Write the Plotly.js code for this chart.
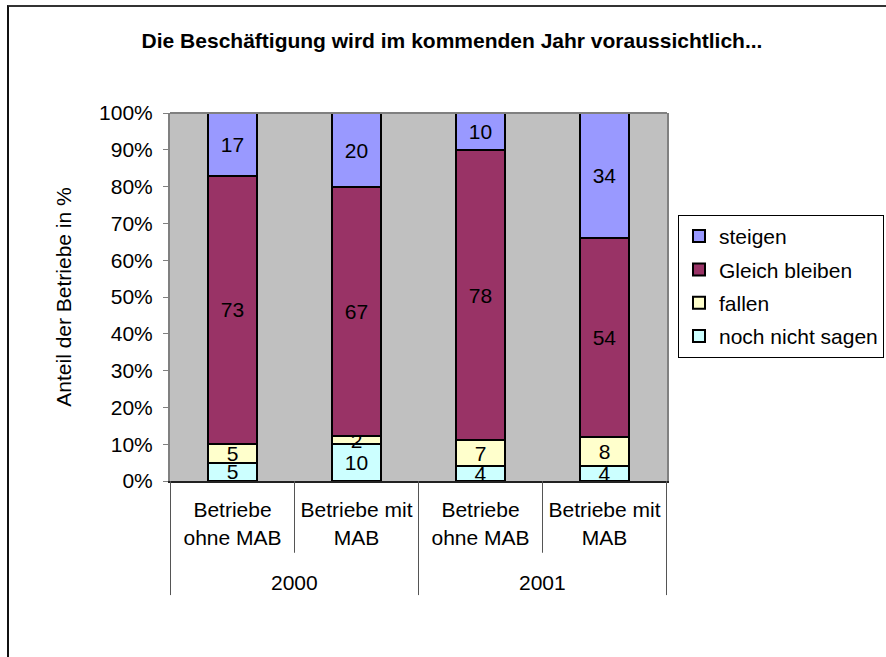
<!DOCTYPE html>
<html>
<head>
<meta charset="utf-8">
<script src="https://cdn.plot.ly/plotly-3.0.1.min.js"></script>
<style>
  body { margin: 0; padding: 0; background: #fff; overflow: hidden; }
  #wrap { position: relative; width: 886px; height: 657px; }
  #chart { position: absolute; left: 0; top: 0; width: 886px; height: 657px; }
  #frame { position: absolute; left: 7px; top: 5px; width: 900px; height: 700px;
           border-left: 2px solid #111; border-top: 2px solid #333; pointer-events: none; }
</style>
</head>
<body>
<div id="wrap">
  <div id="chart"></div>
  <div id="frame"></div>
</div>
<script>
// ---- data ----
const categories = ["c1", "c2", "c3", "c4"];
const categoryLabels = ["Betriebe<br>ohne MAB", "Betriebe mit<br>MAB", "Betriebe<br>ohne MAB", "Betriebe mit<br>MAB"];
const years = ["2000", "2001"];
const nochNichtSagen = [5, 10, 4, 4];
const fallen = [5, 2, 7, 8];
const gleichBleiben = [73, 67, 78, 54];
const steigen = [17, 20, 10, 34];
const yTicks = [0, 10, 20, 30, 40, 50, 60, 70, 80, 90, 100];
const yTickLabels = ["0%", "10%", "20%", "30%", "40%", "50%", "60%", "70%", "80%", "90%", "100%"];

const FONT = "Liberation Sans, Arial, sans-serif";

function mk(name, vals, color, rank) {
  return {
    type: "bar",
    name: name,
    x: categories,
    y: vals,
    text: vals.map(String),
    texttemplate: "%{text}",
    textposition: "inside",
    insidetextanchor: "middle",
    textangle: 0,
    constraintext: "none",
    textfont: { family: FONT, size: 21, color: "#000" },
    marker: { color: color, line: { color: "#000", width: 2 } },
    legendgroup: "g" + rank,
    legendrank: rank,
    hoverinfo: "skip"
  };
}

const data = [
  mk("noch nicht sagen", nochNichtSagen, "#CCFFFF", 4),
  mk("fallen", fallen, "#FFFFCC", 3),
  mk("Gleich bleiben", gleichBleiben, "#993366", 2),
  mk("steigen", steigen, "#9999FF", 1)
];

// dividers & year annotations below axis
const shapes = [];
const outer = [-0.5, 1.5, 3.5];
const inner = [0.5, 2.5];
outer.forEach(x => shapes.push({ type: "line", xref: "x", yref: "paper", x0: x, x1: x, y0: 0, y1: -0.31,
  line: { color: "#555", width: 1 } }));
inner.forEach(x => shapes.push({ type: "line", xref: "x", yref: "paper", x0: x, x1: x, y0: 0, y1: -0.195,
  line: { color: "#555", width: 1 } }));
// top border of plot area
shapes.push({ type: "line", xref: "paper", yref: "paper", x0: 0, x1: 1, y0: 1, y1: 1,
  line: { color: "#808080", width: 2 } });

const annotations = years.map((yr, i) => ({
  text: yr, xref: "x", yref: "paper", x: i * 2 + 0.5, y: -0.275, showarrow: false,
  font: { family: FONT, size: 21, color: "#000" }, xanchor: "center", yanchor: "middle"
}));

const layout = {
  width: 886, height: 657,
  margin: { l: 170, r: 219, t: 113, b: 176, autoexpand: false },
  paper_bgcolor: "#fff",
  plot_bgcolor: "#C0C0C0",
  barmode: "stack",
  barnorm: "percent",
  bargap: 0.6,
  uniformtext: { mode: "show", minsize: 21 },
  title: {
    text: "<b>Die Beschäftigung wird im kommenden Jahr voraussichtlich...</b>",
    font: { family: FONT, size: 21, color: "#000" },
    x: 452 / 886, xref: "container", xanchor: "center",
    y: 1 - 41 / 657, yref: "container", yanchor: "middle"
  },
  xaxis: {
    type: "category",
    tickvals: categories,
    ticktext: categoryLabels,
    tickfont: { family: FONT, size: 21, color: "#000" },
    ticks: "",
    ticklabelstandoff: 9,
    showline: true, linecolor: "#222", linewidth: 2,
    showgrid: false, zeroline: false,
    fixedrange: true
  },
  yaxis: {
    range: [0, 100],
    tickvals: yTicks,
    ticktext: yTickLabels,
    tickfont: { family: FONT, size: 21, color: "#000" },
    ticks: "outside", ticklen: 5, tickcolor: "#808080", tickwidth: 1,
    ticklabelstandoff: 6,
    showline: true, mirror: true, linecolor: "#808080", linewidth: 2,
    showgrid: false, zeroline: false,
    title: { text: "Anteil der Betriebe in %", font: { family: FONT, size: 21, color: "#000" }, standoff: 22 }
  },
  legend: {
    x: (678 - 170) / 497, xanchor: "left", y: 0.723, yanchor: "top",
    traceorder: "grouped",
    tracegroupgap: 3,
    bordercolor: "#000", borderwidth: 1,
    bgcolor: "#fff",
    font: { family: FONT, size: 21, color: "#000" }
  },
  shapes: shapes,
  annotations: annotations
};

Plotly.newPlot("chart", data, layout, { displayModeBar: false, staticPlot: true });
</script>
</body>
</html>
